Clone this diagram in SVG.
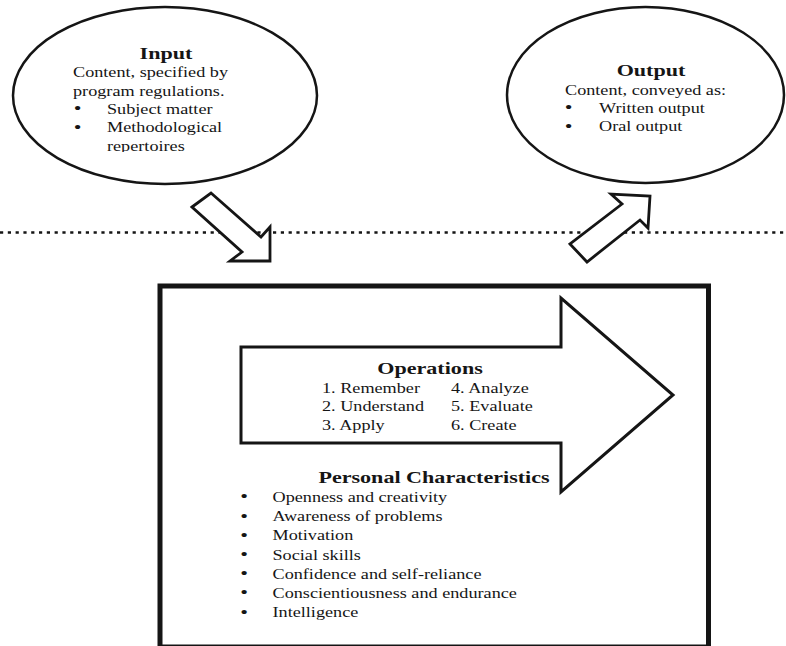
<svg xmlns="http://www.w3.org/2000/svg" width="786" height="646" viewBox="0 0 786 646">
  <style>
    .ln { fill: #fff; stroke: #151515; stroke-linejoin: miter; }
    .t { font-family: "Liberation Serif", "Times New Roman", serif; fill: #151515; font-size: 14px; }
    .h { font-family: "Liberation Serif", "Times New Roman", serif; fill: #151515; font-size: 17px; font-weight: bold; text-anchor: middle; }
    .b { text-anchor: middle; font-size: 17px; }
  </style>
  <defs>
    <clipPath id="inputClip">
      <rect x="0" y="0" width="400" height="152"/>
    </clipPath>
  </defs>
  <rect width="786" height="646" fill="#fff"/>

  <!-- dotted separator -->
  <line x1="0" y1="232.5" x2="786" y2="232.5" stroke="#151515" stroke-width="2.6" stroke-dasharray="3.2 4.6"/>

  <!-- Input node -->
  <g id="input">
    <ellipse class="ln" cx="165" cy="95.5" rx="152" ry="88.5" stroke-width="2.5"/>
    <g transform="translate(166 0) scale(1.3 1)"><text class="h" x="0" y="59">Input</text></g>
    <g clip-path="url(#inputClip)">
      <g transform="translate(73 0) scale(1.3 1)">
        <text class="t" x="0" y="77.3">Content, specified by</text>
        <text class="t" x="0" y="95.6">program regulations.</text>
      </g>
      <g transform="translate(77.5 0) scale(1.3 1)">
        <text class="t b" x="0" y="114.5">•</text>
        <text class="t b" x="0" y="132.8">•</text>
      </g>
      <g transform="translate(107 0) scale(1.3 1)">
        <text class="t" x="0" y="114">Subject matter</text>
        <text class="t" x="0" y="132.3">Methodological</text>
        <text class="t" x="0" y="150.6">repertoires</text>
      </g>
    </g>
  </g>

  <!-- Output node -->
  <g id="output">
    <ellipse class="ln" cx="645.5" cy="95" rx="138.5" ry="88" stroke-width="2.5"/>
    <g transform="translate(651 0) scale(1.3 1)"><text class="h" x="0" y="76">Output</text></g>
    <g transform="translate(565 0) scale(1.3 1)">
      <text class="t" x="0" y="94.6">Content, conveyed as:</text>
    </g>
    <g transform="translate(568.5 0) scale(1.3 1)">
      <text class="t b" x="0" y="113.4">•</text>
      <text class="t b" x="0" y="131.7">•</text>
    </g>
    <g transform="translate(599 0) scale(1.3 1)">
      <text class="t" x="0" y="112.9">Written output</text>
      <text class="t" x="0" y="131.2">Oral output</text>
    </g>
  </g>

  <!-- block arrows between the nodes and the process box -->
  <g id="connectors">
    <polygon class="ln" stroke-width="2.8" points="192,207 211,193 261,237 270,227 270,261 230,261 242,252"/>
    <polygon class="ln" stroke-width="2.8" points="570,244 587,262 640,220 648,228 650,196 611,194 622,204"/>
  </g>

  <!-- Process box: operations and personal characteristics -->
  <g id="process">
    <rect class="ln" x="160" y="286" width="548.5" height="361" stroke-width="5"/>
    <polygon class="ln" stroke-width="3" points="241,347 561,347 561,298 673,395 561,492 561,443 241,443"/>

    <g transform="translate(430 0) scale(1.3 1)"><text class="h" x="0" y="374.5">Operations</text></g>
    <g transform="translate(322 0) scale(1.3 1)">
      <text class="t" x="0" y="393">1. Remember</text>
      <text class="t" x="0" y="411.5">2. Understand</text>
      <text class="t" x="0" y="430">3. Apply</text>
    </g>
    <g transform="translate(451 0) scale(1.3 1)">
      <text class="t" x="0" y="393">4. Analyze</text>
      <text class="t" x="0" y="411.5">5. Evaluate</text>
      <text class="t" x="0" y="430">6. Create</text>
    </g>

    <g transform="translate(434 0) scale(1.3 1)"><text class="h" x="0" y="483">Personal Characteristics</text></g>
    <g transform="translate(244 0) scale(1.3 1)">
      <text class="t b" x="0" y="502.5">•</text>
      <text class="t b" x="0" y="521.7">•</text>
      <text class="t b" x="0" y="540.9">•</text>
      <text class="t b" x="0" y="560.1">•</text>
      <text class="t b" x="0" y="579.3">•</text>
      <text class="t b" x="0" y="598.5">•</text>
      <text class="t b" x="0" y="617.7">•</text>
    </g>
    <g transform="translate(272.5 0) scale(1.3 1)">
      <text class="t" x="0" y="502">Openness and creativity</text>
      <text class="t" x="0" y="521.2">Awareness of problems</text>
      <text class="t" x="0" y="540.4">Motivation</text>
      <text class="t" x="0" y="559.6">Social skills</text>
      <text class="t" x="0" y="578.8">Confidence and self-reliance</text>
      <text class="t" x="0" y="598">Conscientiousness and endurance</text>
      <text class="t" x="0" y="617.2">Intelligence</text>
    </g>
  </g>
</svg>
